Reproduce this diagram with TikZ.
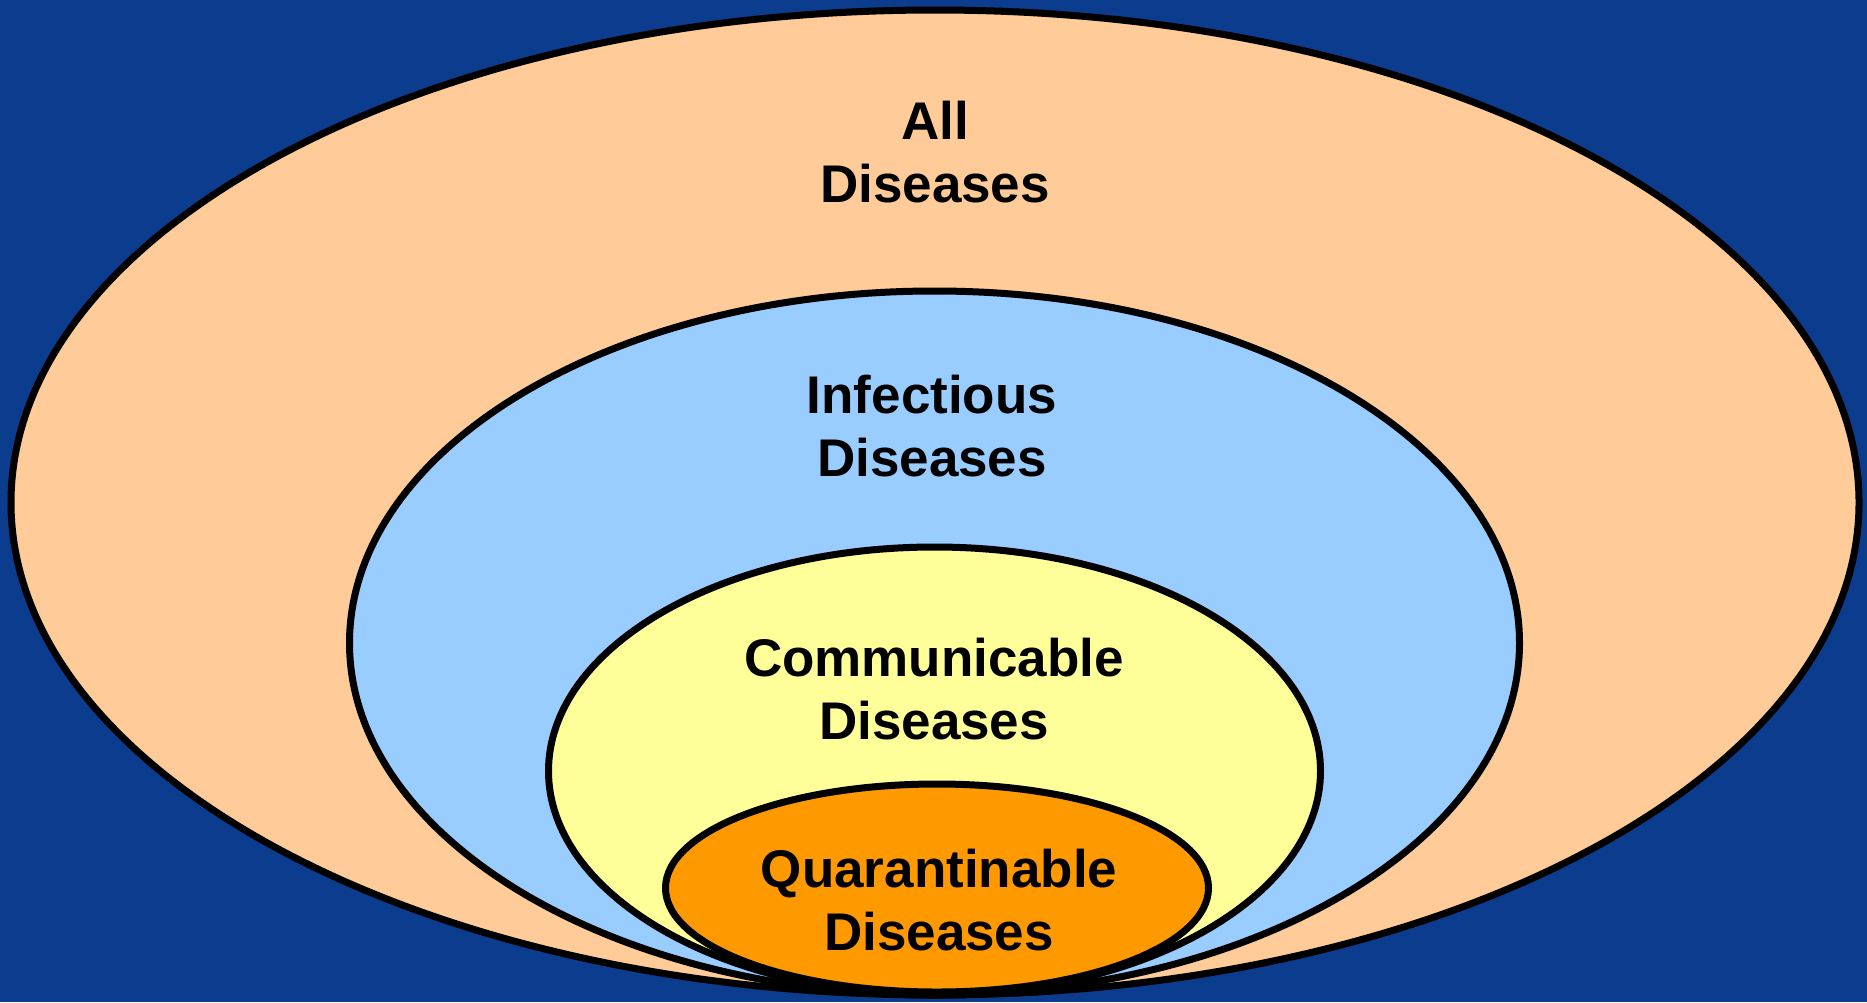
\documentclass[tikz,border=0pt]{standalone}
\usepackage{fontspec}
\setmainfont{Liberation Sans}
\usetikzlibrary{positioning,shapes.geometric}
\definecolor{bgBlue}{HTML}{0C3C8E}
\definecolor{allPeach}{HTML}{FFCC99}
\definecolor{infBlue}{HTML}{99CCFF}
\definecolor{comYellow}{HTML}{FFFF99}
\definecolor{quaOrange}{HTML}{FF9900}

\begin{document}
\begin{tikzpicture}[
  x=1pt, y=-1pt,
  %% Set styles
  set/.style={
    ellipse, draw=black, line width=7pt, inner sep=0pt
  },
  setlabel/.style={
    align=center, inner sep=0pt, anchor=base,
    font=\fontsize{53}{63}\selectfont\bfseries
  },
]

%% ── Background ─────────────────────────────────────────────────────────────
\fill[bgBlue] (0,0) rectangle (1867,1002);
\useasboundingbox (0,0) rectangle (1867,1002);

%% ── Nested sets ────────────────────────────────────────────────────────────
\node[set, fill=allPeach,   minimum width=1848pt, minimum height=985pt] (all) at (935,502.5) {};
\node[set, fill=infBlue,    minimum width=1170pt, minimum height=704pt] (inf) at (934.5,643) {};
\node[set, fill=comYellow,  minimum width=772pt,  minimum height=448pt] (com) at (934.5,771) {};
\node[set, fill=quaOrange,  minimum width=543pt,  minimum height=208pt] (qua) at (937,888) {};

%% ── Labels (anchored at the baseline of the second line) ───────────────────
\node[setlabel] (allTxt) at (935,202) {All\\Diseases};
\node[setlabel] (infTxt) at (932,476) {Infectious\\Diseases};
\node[setlabel] (comTxt) at (934,739) {Communicable\\Diseases};
\node[setlabel] (quaTxt) at (939,950) {Quarantinable\\Diseases};

\end{tikzpicture}
\end{document}
